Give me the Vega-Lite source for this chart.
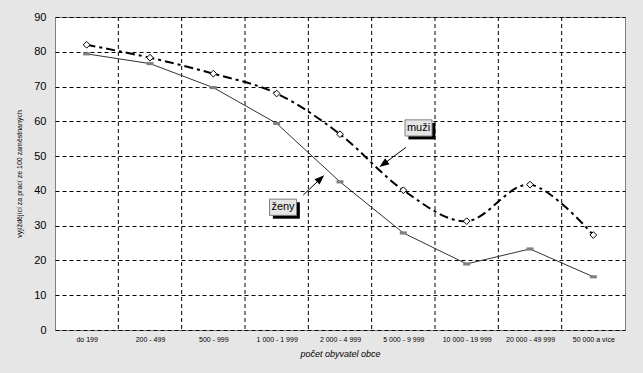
{
  "$schema": "https://vega.github.io/schema/vega-lite/v6.json",
  "width": 570,
  "height": 313,
  "autosize": {"type": "none"},
  "padding": {"left": 55, "top": 17, "right": 18, "bottom": 43},
  "background": "#e6e6e6",
  "config": {
    "view": {"stroke": "#808080", "strokeWidth": 1, "fill": "white"},
    "font": "Liberation Sans",
    "axis": {"labelOverlap": false, "labelFlush": false},
    "axisY": {
      "grid": true, "gridColor": "black", "gridDash": [4, 3], "gridWidth": 1,
      "ticks": false, "domain": false, "labelOverlap": false,
      "labelFontSize": 11, "labelColor": "black", "labelPadding": 9,
      "titleFontSize": 7, "titleFontWeight": "normal", "titleColor": "black", "titlePadding": 11
    }
  },
  "datasets": {
    "muzi": [
      {"i": 0, "kat": "do 199", "v": 82},
      {"i": 1, "kat": "200 - 499", "v": 78.3},
      {"i": 2, "kat": "500 - 999", "v": 73.7},
      {"i": 3, "kat": "1 000 - 1 999", "v": 68},
      {"i": 4, "kat": "2 000 - 4 999", "v": 56.3},
      {"i": 5, "kat": "5 000 - 9 999", "v": 40.2},
      {"i": 6, "kat": "10 000 - 19 999", "v": 31.3},
      {"i": 7, "kat": "20 000 - 49 999", "v": 41.8},
      {"i": 8, "kat": "50 000 a více", "v": 27.3}
    ],
    "zeny": [
      {"i": 0, "kat": "do 199", "v": 79.4},
      {"i": 1, "kat": "200 - 499", "v": 76.6},
      {"i": 2, "kat": "500 - 999", "v": 69.7},
      {"i": 3, "kat": "1 000 - 1 999", "v": 59.4},
      {"i": 4, "kat": "2 000 - 4 999", "v": 42.6},
      {"i": 5, "kat": "5 000 - 9 999", "v": 27.9},
      {"i": 6, "kat": "10 000 - 19 999", "v": 19},
      {"i": 7, "kat": "20 000 - 49 999", "v": 23.3},
      {"i": 8, "kat": "50 000 a více", "v": 15.3}
    ],
    "grid": [{"g": 0.5}, {"g": 1.5}, {"g": 2.5}, {"g": 3.5}, {"g": 4.5}, {"g": 5.5}, {"g": 6.5}, {"g": 7.5}],
    "labels": [
      {"t": "muži", "x": 5.24, "y": 58.1},
      {"t": "ženy", "x": 3.1, "y": 35.3}
    ],
    "arrows": [
      {"x": 5.04, "y": 52.5, "x2": 4.7, "y2": 47.9, "a": 233.6},
      {"x": 3.42, "y": 38.8, "x2": 3.68, "y2": 43.3, "a": 46.8}
    ]
  },
  "layer": [
    {
      "data": {"name": "grid"},
      "mark": {"type": "rule", "color": "black", "strokeDash": [4, 3], "strokeWidth": 1},
      "encoding": {
        "x": {"field": "g", "type": "quantitative", "scale": {"domain": [-0.5, 8.5], "nice": false, "zero": false},
          "axis": {
            "title": "počet obyvatel obce",
            "values": [0, 1, 2, 3, 4, 5, 6, 7, 8],
            "labelExpr": "['do 199','200 - 499','500 - 999','1 000 - 1 999','2 000 - 4 999','5 000 - 9 999','10 000 - 19 999','20 000 - 49 999','50 000 a více'][datum.value]",
            "grid": false, "ticks": false, "domain": false,
            "labelFontSize": 7, "labelColor": "black", "labelPadding": 5,
            "titleFontSize": 9, "titleFontStyle": "italic", "titleFontWeight": "normal", "titleColor": "black", "titlePadding": 7
          }
        }
      }
    },
    {
      "data": {"name": "zeny"},
      "mark": {"type": "line", "color": "#333333", "strokeWidth": 1,
        "point": {"shape": "M-1,-0.45L1,-0.45L1,0.45L-1,0.45Z", "size": 49, "filled": true, "color": "#808080"}},
      "encoding": {
        "x": {"field": "i", "type": "quantitative", "title": "počet obyvatel obce"},
        "y": {"field": "v", "type": "quantitative", "scale": {"domain": [0, 90], "nice": false}, "title": "vyjíždějící za prací ze 100 zaměstnaných",
          "axis": {"values": [0, 10, 20, 30, 40, 50, 60, 70, 80, 90], "labelOverlap": false}}
      }
    },
    {
      "data": {"name": "muzi"},
      "mark": {"type": "line", "color": "black", "strokeWidth": 2, "interpolate": "cardinal", "strokeDash": [9, 4, 3, 4]},
      "encoding": {
        "x": {"field": "i", "type": "quantitative", "title": "počet obyvatel obce"},
        "y": {"field": "v", "type": "quantitative", "title": "vyjíždějící za prací ze 100 zaměstnaných", "axis": {"values": [0, 10, 20, 30, 40, 50, 60, 70, 80, 90], "labelOverlap": false}}
      }
    },
    {
      "data": {"name": "muzi"},
      "mark": {"type": "point", "shape": "diamond", "size": 45, "filled": true, "fill": "white", "stroke": "black", "strokeWidth": 1, "opacity": 1},
      "encoding": {
        "x": {"field": "i", "type": "quantitative", "title": "počet obyvatel obce"},
        "y": {"field": "v", "type": "quantitative", "title": "vyjíždějící za prací ze 100 zaměstnaných", "axis": {"values": [0, 10, 20, 30, 40, 50, 60, 70, 80, 90], "labelOverlap": false}}
      }
    },
    {
      "data": {"name": "arrows"},
      "mark": {"type": "rule", "color": "black", "strokeWidth": 1},
      "encoding": {
        "x": {"field": "x", "type": "quantitative", "title": "počet obyvatel obce"},
        "y": {"field": "y", "type": "quantitative", "title": "vyjíždějící za prací ze 100 zaměstnaných", "axis": {"values": [0, 10, 20, 30, 40, 50, 60, 70, 80, 90], "labelOverlap": false}},
        "x2": {"field": "x2"},
        "y2": {"field": "y2"}
      }
    },
    {
      "data": {"name": "arrows"},
      "mark": {"type": "point", "shape": "M0,-1L0.6,0.6L-0.6,0.6Z", "size": 150, "filled": true, "color": "black", "opacity": 1},
      "encoding": {
        "x": {"field": "x2", "type": "quantitative", "title": "počet obyvatel obce"},
        "y": {"field": "y2", "type": "quantitative", "title": "vyjíždějící za prací ze 100 zaměstnaných", "axis": {"values": [0, 10, 20, 30, 40, 50, 60, 70, 80, 90], "labelOverlap": false}},
        "angle": {"field": "a", "type": "quantitative", "scale": null}
      }
    },
    {
      "data": {"name": "labels"},
      "mark": {"type": "point", "shape": "M-0.75,-0.37L1.25,-0.37L1.25,0.85L-0.75,0.85Z", "size": 729, "filled": true, "color": "black", "opacity": 1},
      "encoding": {
        "x": {"field": "x", "type": "quantitative", "title": "počet obyvatel obce"},
        "y": {"field": "y", "type": "quantitative", "title": "vyjíždějící za prací ze 100 zaměstnaných", "axis": {"values": [0, 10, 20, 30, 40, 50, 60, 70, 80, 90], "labelOverlap": false}}
      }
    },
    {
      "data": {"name": "labels"},
      "mark": {"type": "point", "shape": "M-1,-0.6L1,-0.6L1,0.6L-1,0.6Z", "size": 729, "filled": true, "fill": "#e6e6e6", "stroke": "#808080", "strokeWidth": 1, "opacity": 1},
      "encoding": {
        "x": {"field": "x", "type": "quantitative", "title": "počet obyvatel obce"},
        "y": {"field": "y", "type": "quantitative", "title": "vyjíždějící za prací ze 100 zaměstnaných", "axis": {"values": [0, 10, 20, 30, 40, 50, 60, 70, 80, 90], "labelOverlap": false}}
      }
    },
    {
      "data": {"name": "labels"},
      "mark": {"type": "text", "fontSize": 11, "color": "black", "align": "center", "baseline": "middle"},
      "encoding": {
        "x": {"field": "x", "type": "quantitative", "title": "počet obyvatel obce"},
        "y": {"field": "y", "type": "quantitative", "title": "vyjíždějící za prací ze 100 zaměstnaných", "axis": {"values": [0, 10, 20, 30, 40, 50, 60, 70, 80, 90], "labelOverlap": false}},
        "text": {"field": "t"}
      }
    }
  ]
}
